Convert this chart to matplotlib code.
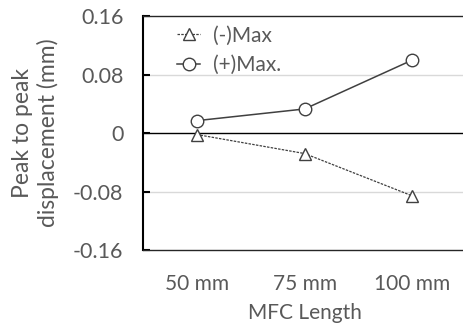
import matplotlib
matplotlib.use('Agg')
import matplotlib.pyplot as plt

categories = ['50 mm', '75 mm', '100 mm']
neg_max = [-0.002, -0.028, -0.086]
pos_max = [0.017, 0.033, 0.100]
yticks = [-0.16, -0.08, 0, 0.08, 0.16]
ytick_labels = ['-0.16', '-0.08', '0', '0.08', '0.16']

plt.rcParams['font.family'] = ['Lato', 'DejaVu Sans']
txt = '#595959'

fig = plt.figure(figsize=(4.64, 3.29), dpi=100)
ax = fig.add_axes([0.308, 0.240, 0.697, 0.711])

x = range(len(categories))
ax.plot(x, neg_max, color='#404040', linewidth=0.9, linestyle=(0, (2, 1)),
        marker='^', markersize=8, markerfacecolor='white', markeredgecolor='#404040',
        markeredgewidth=1.0, label='(-)Max')
ax.plot(x, pos_max, color='#404040', linewidth=1.1, linestyle='-',
        marker='o', markersize=9, markerfacecolor='white', markeredgecolor='#404040',
        markeredgewidth=1.0, label='(+)Max.')

ax.set_xlim(-0.5, 2.5)
ax.set_ylim(-0.16, 0.16)
ax.set_yticks(yticks)
ax.set_yticklabels(ytick_labels)
ax.set_xticks(list(x))
ax.set_xticklabels(categories)

for v in [-0.08, 0.08]:
    ax.axhline(v, color='#d9d9d9', linewidth=1.0, zorder=0)
ax.axhline(0, color='black', linewidth=1.0, zorder=1)

for s in ['top', 'bottom']:
    ax.spines[s].set_color('#262626')
    ax.spines[s].set_linewidth(1.0)
ax.spines['left'].set_color('black')
ax.spines['left'].set_linewidth(1.5)
ax.spines['right'].set_visible(False)

ax.tick_params(axis='y', direction='in', length=5, width=1.5, colors='black',
               labelcolor=txt, labelsize=15.5, pad=14)
ax.tick_params(axis='x', length=0, labelcolor=txt, labelsize=15, pad=17)

ax.set_xlabel('MFC Length', color=txt, fontsize=15, labelpad=7)
ax.set_ylabel('Peak to peak\ndisplacement (mm)', color=txt, fontsize=16.5, labelpad=10,
              linespacing=1.25)

leg = ax.legend(loc='upper left', frameon=False, fontsize=15, handlelength=1.1,
                handletextpad=0.6, labelspacing=0.45, borderaxespad=0.0,
                bbox_to_anchor=(0.08, 0.995))
for t in leg.get_texts():
    t.set_color(txt)

plt.savefig('out.png', dpi=100)
